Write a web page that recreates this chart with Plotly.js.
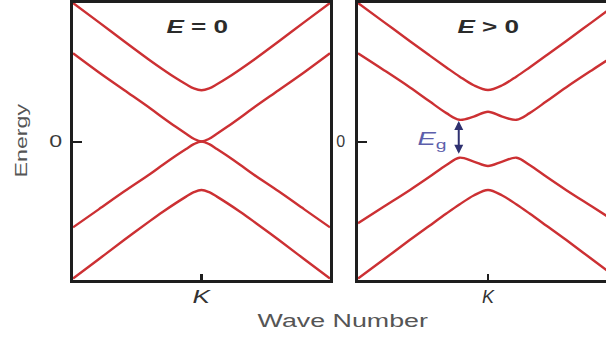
<!DOCTYPE html>
<html>
<head>
<meta charset="utf-8">
<script src="https://cdn.plot.ly/plotly-3.0.1.min.js"></script>
<style>
  html, body { margin: 0; padding: 0; overflow: hidden; background: #fff; }
  #chart { width: 620px; height: 338px; }
</style>
</head>
<body>
<div id="chart"></div>
<script>
// Band structure of bilayer graphene near the K point, without and with a perpendicular field.

// E = 0 panel: wave number relative to K, and the four band energies
const kLeft     = [-1, -0.8, -0.6, -0.4, -0.3, -0.2, -0.12, -0.06, 0, 0.06, 0.12, 0.2, 0.3, 0.4, 0.6, 0.8, 1];
const leftBand1 = [1.0, 0.862, 0.722, 0.585, 0.52, 0.458, 0.413, 0.383, 0.37, 0.383, 0.413, 0.458, 0.52, 0.585, 0.722, 0.862, 1.0];
const leftBand2 = [0.637, 0.50, 0.37, 0.24, 0.172, 0.106, 0.056, 0.02, 0, 0.02, 0.056, 0.106, 0.172, 0.24, 0.37, 0.50, 0.637];
const leftBand3 = [-0.62, -0.49, -0.36, -0.235, -0.168, -0.103, -0.054, -0.019, 0, -0.019, -0.054, -0.103, -0.168, -0.235, -0.36, -0.49, -0.62];
const leftBand4 = [-0.99, -0.85, -0.71, -0.573, -0.507, -0.445, -0.398, -0.366, -0.35, -0.366, -0.398, -0.445, -0.507, -0.573, -0.71, -0.85, -0.99];

// E > 0 panel: the two inner bands take the "Mexican hat" shape and a gap opens
const kRight     = [-1, -0.8, -0.6, -0.45, -0.32, -0.22, -0.11, 0, 0.11, 0.22, 0.32, 0.45, 0.6, 0.8, 1];
const rightBand1 = [1.0, 0.862, 0.724, 0.622, 0.535, 0.47, 0.406, 0.372, 0.406, 0.47, 0.535, 0.622, 0.724, 0.862, 1.0];
const rightBand2 = [0.637, 0.515, 0.39, 0.29, 0.205, 0.157, 0.18, 0.215, 0.18, 0.157, 0.205, 0.29, 0.39, 0.515, 0.637];
const rightBand3 = [-0.59, -0.47, -0.35, -0.255, -0.17, -0.117, -0.145, -0.177, -0.145, -0.117, -0.17, -0.255, -0.35, -0.47, -0.59];
const rightBand4 = [-0.99, -0.85, -0.71, -0.608, -0.52, -0.455, -0.39, -0.35, -0.39, -0.455, -0.52, -0.608, -0.71, -0.85, -0.99];

// Gap arrow end points (energy) and its wave-number position in the E > 0 panel
const gapK = -0.225;
const gapTop = 0.148;
const gapBottom = -0.1;

// Axis tick labels
const kTickText = ['<i>K</i>'];
const eTickText = ['0'];

const FONT = 'Liberation Sans, Arial, Helvetica, sans-serif';
const RED = '#cc3033';
const INK = '#1e1e1e';

function band(x, y, xa, ya) {
  return {
    x: x, y: y, xaxis: xa, yaxis: ya, type: 'scatter', mode: 'lines',
    line: { color: RED, width: 2.4, shape: 'spline', smoothing: 1 },
    hoverinfo: 'skip', showlegend: false
  };
}

const traces = [
  band(kLeft, leftBand1, 'x', 'y'),
  band(kLeft, leftBand2, 'x', 'y'),
  band(kLeft, leftBand3, 'x', 'y'),
  band(kLeft, leftBand4, 'x', 'y'),
  band(kRight, rightBand1, 'x2', 'y2'),
  band(kRight, rightBand2, 'x2', 'y2'),
  band(kRight, rightBand3, 'x2', 'y2'),
  band(kRight, rightBand4, 'x2', 'y2')
];

const W = 620, H = 338;

function xAxis(domain, anchor) {
  return {
    domain: domain, anchor: anchor, range: [-1, 1],
    showline: true, mirror: true, linewidth: 2.6, linecolor: INK,
    showgrid: false, zeroline: false,
    tickvals: [0], ticktext: kTickText,
    ticks: 'inside', ticklen: 6, tickwidth: 2.5, tickcolor: INK,
    tickfont: { family: FONT, size: 18, color: '#333' },
    ticklabelstandoff: -1,
    fixedrange: true
  };
}
function yAxis(anchor) {
  return {
    domain: [58 / H, 335 / H], anchor: anchor, range: [-1, 1],
    showline: true, mirror: true, linewidth: 2.6, linecolor: INK,
    showgrid: false, zeroline: false,
    tickvals: [0], ticktext: eTickText,
    ticks: 'inside', ticklen: 9, tickwidth: 2, tickcolor: INK,
    tickfont: { family: FONT, size: 16, color: '#3a3a3a' },
    ticklabelstandoff: 7,
    fixedrange: true
  };
}

const layout = {
  width: W, height: H,
  margin: { l: 0, r: 0, t: 0, b: 0 },
  paper_bgcolor: '#fff', plot_bgcolor: '#fff',
  showlegend: false,
  xaxis: xAxis([73 / W, 330 / W], 'y'),
  yaxis: yAxis('x'),
  xaxis2: xAxis([358 / W, 618 / W], 'y2'),
  yaxis2: yAxis('x2'),
  annotations: [
    { xref: 'paper', yref: 'paper', x: 21 / W, y: (H - 141) / H, text: 'Energy',
      textangle: -90, showarrow: false, xanchor: 'center', yanchor: 'middle',
      font: { family: FONT, size: 16, color: '#555' } },
    { xref: 'paper', yref: 'paper', x: 343 / W, y: (H - 320) / H, text: 'Wave Number',
      showarrow: false, xanchor: 'center', yanchor: 'middle',
      font: { family: FONT, size: 18.5, color: '#555' } },
    { xref: 'x', yref: 'y', x: -0.03, y: 0.83, text: '<b><i>E</i> = 0</b>',
      showarrow: false, xanchor: 'center', yanchor: 'middle',
      font: { family: FONT, size: 18, color: '#2b2b2b' } },
    { xref: 'x2', yref: 'y2', x: 0, y: 0.83, text: '<b><i>E</i> &gt; 0</b>',
      showarrow: false, xanchor: 'center', yanchor: 'middle',
      font: { family: FONT, size: 18, color: '#2b2b2b' } },
    { xref: 'x2', yref: 'y2', x: -0.433, y: 0.01, text: '<i>E</i><sub>g</sub>',
      showarrow: false, xanchor: 'center', yanchor: 'middle',
      font: { family: FONT, size: 19, color: '#5d5fab' } },
    { xref: 'x2', yref: 'y2', x: gapK, y: gapTop, axref: 'x2', ayref: 'y2',
      ax: gapK, ay: gapBottom, text: '', showarrow: true,
      arrowside: 'end+start', arrowhead: 2, arrowsize: 0.9, arrowwidth: 2,
      arrowcolor: '#2f3170' }
  ]
};

// The lettering in this figure is set in a wide face; widen each label along its baseline.
function widenText(gd, s) {
  gd.querySelectorAll('text.annotation-text, .xtick text, .ytick text').forEach(function (t) {
    const b = t.getBBox();
    if (!b.width) return;
    const cx = b.x + b.width / 2;
    const old = t.getAttribute('transform') || '';
    t.setAttribute('transform', old + ' translate(' + cx + ',0) scale(' + s + ',1) translate(' + (-cx) + ',0)');
  });
}

Plotly.newPlot('chart', traces, layout, { displayModeBar: false, staticPlot: true })
  .then(function (gd) { widenText(gd, 1.45); });
</script>
</body>
</html>
